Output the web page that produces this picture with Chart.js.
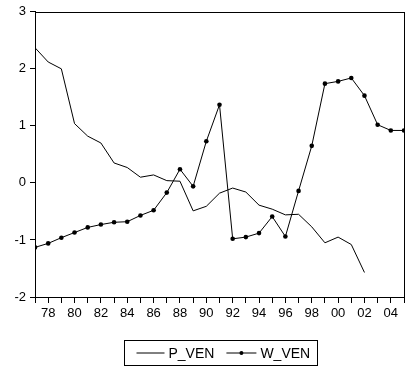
<!DOCTYPE html>
<html>
<head>
<meta charset="utf-8">
<script src="https://cdn.jsdelivr.net/npm/chart.js@4.4.1/dist/chart.umd.min.js"></script>
<style>
  html, body { margin: 0; padding: 0; background: #fff; }
  #wrap { width: 408px; height: 373px; }
</style>
</head>
<body>
<div id="wrap"><canvas id="canvas"></canvas></div>
<script>
// years 1977..2005
var years = [];
for (var y = 1977; y <= 2005; y++) years.push(y);

var p_ven = [2.37, 2.12, 2.00, 1.04, 0.82, 0.70, 0.35, 0.27, 0.10, 0.14, 0.04, 0.03,
             -0.49, -0.41, -0.18, -0.09, -0.16, -0.39, -0.46, -0.56, -0.55, -0.77,
             -1.05, -0.95, -1.08, -1.57, null, null, null];

var w_ven = [-1.13, -1.06, -0.96, -0.87, -0.78, -0.73, -0.69, -0.68, -0.57, -0.48,
             -0.17, 0.24, -0.06, 0.73, 1.37, -0.98, -0.95, -0.88, -0.59, -0.94,
             -0.14, 0.65, 1.74, 1.78, 1.84, 1.53, 1.02, 0.92, 0.92];

var yTicks = [-2, -1, 0, 1, 2, 3];
var seriesNames = ["P_VEN", "W_VEN"];

function toPoints(vals) {
    var out = [];
    for (var i = 0; i < years.length; i++) {
        if (vals[i] !== null) out.push({x: years[i], y: vals[i]});
    }
    return out;
}

var FONT = "Arial, 'Liberation Sans', sans-serif";

// frame around plot + boxed legend at the bottom
var framePlugin = {
    id: 'frame',
    afterDraw: function(chart) {
        var ctx = chart.ctx, a = chart.chartArea;
        ctx.save();
        ctx.strokeStyle = '#000';
        ctx.lineWidth = 1;
        ctx.strokeRect(Math.round(a.left) + 0.5, Math.round(a.top) + 0.5,
                       Math.round(a.right - a.left), Math.round(a.bottom - a.top));

        // legend
        ctx.font = '14px ' + FONT;
        ctx.textBaseline = 'middle';
        var w1 = ctx.measureText(seriesNames[0]).width;
        var w2 = ctx.measureText(seriesNames[1]).width;
        var boxW = 12 + 28 + 4 + w1 + 12 + 30 + 4 + w2 + 7;
        var boxX = Math.round(220 - boxW / 2) + 0.5;
        var boxY = 340.5, boxH = 25;
        ctx.strokeRect(boxX, boxY, Math.round(boxW), boxH);
        var cy = boxY + boxH / 2;
        var x = boxX + 12;
        ctx.beginPath();
        ctx.moveTo(x, cy); ctx.lineTo(x + 28, cy);
        ctx.stroke();
        x += 32;
        ctx.fillStyle = '#000';
        ctx.fillText(seriesNames[0], x, cy + 1);
        x += w1 + 12;
        ctx.beginPath();
        ctx.moveTo(x, cy); ctx.lineTo(x + 30, cy);
        ctx.stroke();
        ctx.beginPath();
        ctx.arc(x + 15, cy, 2, 0, Math.PI * 2);
        ctx.fill();
        x += 34;
        ctx.fillText(seriesNames[1], x, cy + 1);
        ctx.restore();
    }
};

var ctx = document.getElementById('canvas');
var chart = new Chart(ctx, {
    type: 'line',
    data: {
        datasets: [
            {
                label: seriesNames[0],
                data: toPoints(p_ven),
                borderColor: '#000',
                borderWidth: 1,
                pointRadius: 0,
                tension: 0
            },
            {
                label: seriesNames[1],
                data: toPoints(w_ven),
                borderColor: '#000',
                backgroundColor: '#000',
                borderWidth: 1,
                pointRadius: 2.3,
                pointBorderWidth: 0,
                tension: 0
            }
        ]
    },
    options: {
        responsive: true,
        maintainAspectRatio: false,
        animation: false,
        layout: { padding: { top: 8, right: 2, left: 0, bottom: 0 } },
        plugins: {
            legend: { display: false },
            tooltip: { enabled: false }
        },
        scales: {
            x: {
                type: 'linear',
                min: 1977,
                max: 2005,
                afterFit: function(s) { s.height = 76; },
                afterBuildTicks: function(s) {
                    s.ticks = years.map(function(v) { return {value: v}; });
                },
                ticks: {
                    autoSkip: false,
                    maxRotation: 0,
                    padding: 3,
                    color: '#000',
                    font: { family: FONT, size: 13 },
                    callback: function(v) {
                        if (v % 2 !== 0) return '';
                        var s = String(v % 100);
                        return s.length < 2 ? '0' + s : s;
                    }
                },
                grid: { drawOnChartArea: false, drawTicks: true, tickLength: 6, color: '#000' },
                border: { display: true, color: '#000' }
            },
            y: {
                min: -2,
                max: 3,
                afterFit: function(s) { s.width = 35; },
                afterBuildTicks: function(s) {
                    s.ticks = yTicks.map(function(v) { return {value: v}; });
                },
                ticks: {
                    padding: 4,
                    color: '#000',
                    font: { family: FONT, size: 13 }
                },
                grid: { drawOnChartArea: false, drawTicks: true, tickLength: 5, color: '#000' },
                border: { display: true, color: '#000' }
            }
        }
    },
    plugins: [framePlugin]
});
</script>
</body>
</html>
